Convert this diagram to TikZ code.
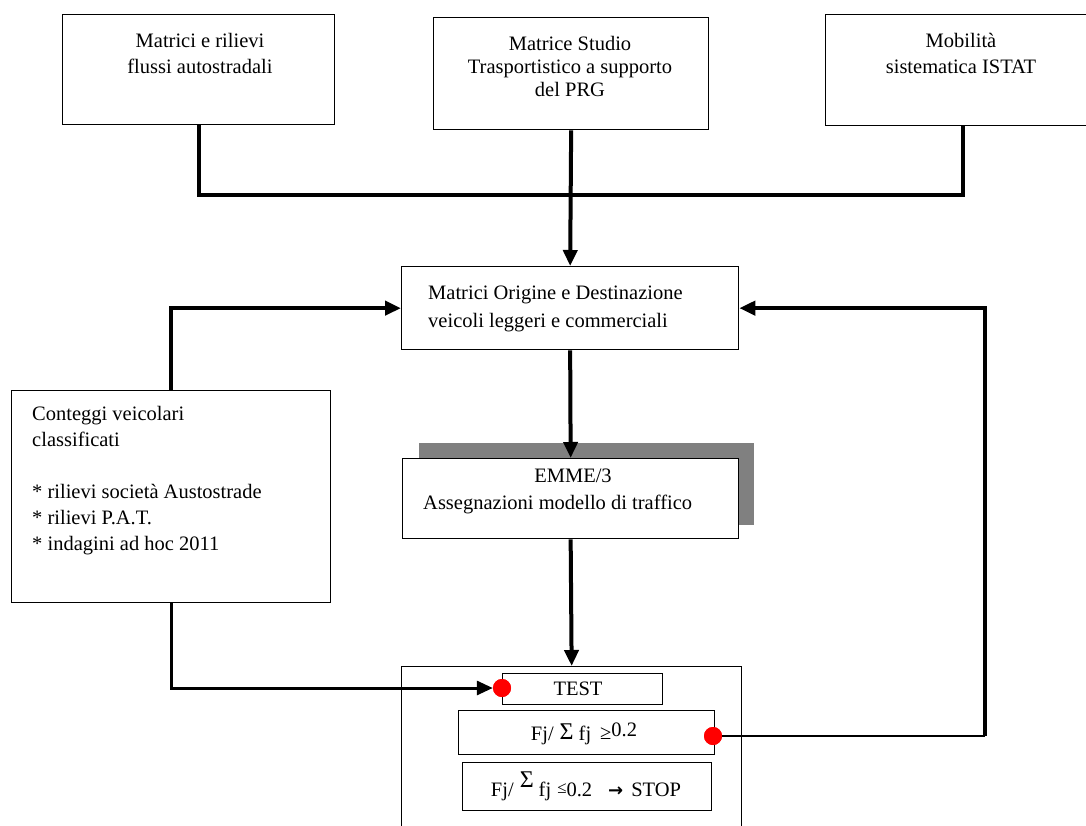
\documentclass[tikz,border=0pt]{standalone}
\usepackage{fontspec}
\setmainfont{Liberation Serif}
\newfontfamily\arrowfont{DejaVu Sans}
\usetikzlibrary{arrows.meta}
\definecolor{shadowgray}{HTML}{808080}
\definecolor{dotred}{HTML}{FF0000}
\newcommand{\bigsig}{{\fontsize{24}{24}\selectfont Σ}}
\tikzset{
  box/.style={draw=black, line width=1.3pt, fill=white, inner sep=0pt, anchor=north west},
  lbl/.style={font=\fontsize{20.5}{25}\selectfont, inner sep=0pt, align=center},
  conn/.style={line width=4pt, line join=miter},
  arr/.style={conn, -{Triangle[length=16pt,width=14pt]}},
  reddot/.style={circle, fill=dotred, minimum size=18pt, inner sep=0pt},
}
\begin{document}
\begin{tikzpicture}[x=1pt,y=-1pt]
\useasboundingbox (0,0) rectangle (1086,826);
% top boxes
\node[box, minimum width=272, minimum height=110] (b1) at (62,14) {};
\node[box, minimum width=275, minimum height=112] (b2) at (433,17) {};
\node[box, minimum width=275, minimum height=111] (b3) at (825,14) {};
\node[lbl, font=\fontsize{20.5}{26}\selectfont] (t1) at (200,53) {Matrici e rilievi\\flussi autostradali};
\node[lbl, font=\fontsize{20.5}{23}\selectfont] (t2) at (570,66) {Matrice Studio\\Trasportistico a supporto\\del PRG};
\node[lbl, font=\fontsize{20.5}{26}\selectfont] (t3) at (961,53) {Mobilità\\sistematica ISTAT};
% OD box
\node[box, minimum width=337, minimum height=83] (od) at (401,266) {};
\node[lbl, align=left, anchor=west, font=\fontsize{20.5}{28}\selectfont] (odt) at (428,309) {Matrici Origine e Destinazione\\veicoli leggeri e commerciali};
% EMME box with shadow
\node[box, draw=none, fill=shadowgray, minimum width=335, minimum height=82] (emmesh) at (418,442) {};
\node[box, minimum width=336, minimum height=80] (emme) at (402,458) {};
\node[lbl] (emmet1) at (573,476) {EMME/3};
\node[lbl, anchor=west] (emmet2) at (423,504) {Assegnazioni modello di traffico};
% Conteggi box
\node[box, minimum width=319, minimum height=212] (cont) at (11,390) {};
\node[lbl, align=left, anchor=west, font=\fontsize{20.5}{26}\selectfont] (contt) at (32,481) {Conteggi veicolari\\classificati\\[26pt]* rilievi società Austostrade\\* rilievi P.A.T.\\* indagini ad hoc 2011};
% test area
\node[box, minimum width=340, minimum height=200] (outer) at (401,666) {};
\node[box, minimum width=160, minimum height=31] (test) at (502,673) {};
\node[lbl] (testt) at (578,689) {TEST};
\node[box, minimum width=256, minimum height=44] (fj1) at (458,710) {};
\node[lbl] (fj1t) at (584,734) {Fj/\hspace{6pt}\raisebox{1pt}{\bigsig}\hspace{5pt}fj\hspace{9pt}\raisebox{1pt}{≥}\raisebox{4pt}{0.2}};
\node[box, minimum width=249, minimum height=48] (fj2) at (462,762) {};
\node[lbl] (fj2t) at (586,786) {Fj/\hspace{6pt}\raisebox{9pt}{\bigsig}\hspace{5pt}fj\hspace{6pt}\raisebox{3pt}{\fontsize{17}{17}\selectfont ≤}0.2\hspace{16pt}{\arrowfont\bfseries\fontsize{18}{18}\selectfont →}\hspace{8pt}STOP};
% connectors
\coordinate (bus) at (570,195);
\coordinate (rcol) at (985,736);
\draw[conn] (b1.south) -- (b1.south |- bus) -- (b3.south |- bus) -- (b3.south);
\draw[arr] (b2.south) -- (od.north);
\draw[arr] (cont.north) |- (od.west);
\draw[arr] (od.south) -- (emme.north);
\draw[arr] (emme.south) -- (outer.north);
\node[reddot] (dotL) at (502,688) {};
\node[reddot] (dotR) at (713,736) {};
\draw[line width=3pt, -{Triangle[length=16pt,width=14pt]}] (cont.south) |- (dotL.west);
\node[reddot] at (dotL) {};
\draw[line width=2.5pt] (dotR.east) -- (rcol);
\draw[arr] (rcol) |- (od.east);
\node[reddot] at (dotR) {};
\end{tikzpicture}
\end{document}
